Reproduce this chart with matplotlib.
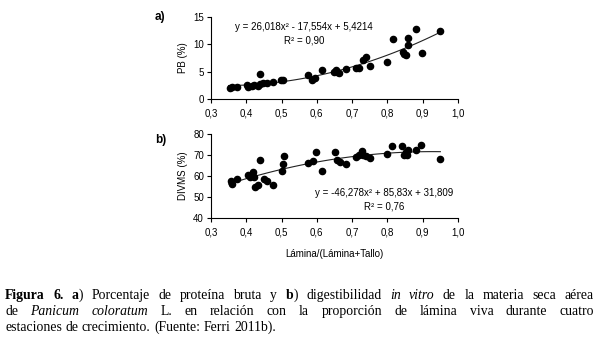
import matplotlib
matplotlib.use('Agg')
import matplotlib.pyplot as plt
import numpy as np

# proporcion de lamina viva (eje x) y valores
x_pb = [0.354, 0.359, 0.373, 0.403, 0.406, 0.415, 0.423, 0.434, 0.439, 0.439,
        0.448, 0.458, 0.477, 0.498, 0.505, 0.576, 0.585, 0.595, 0.614, 0.648,
        0.654, 0.658, 0.664, 0.682, 0.711, 0.720, 0.730, 0.739, 0.750, 0.798,
        0.815, 0.843, 0.847, 0.852, 0.857, 0.857, 0.881, 0.897, 0.949]
y_pb = [2.1, 2.15, 2.2, 2.6, 2.25, 2.4, 2.55, 2.4, 4.65, 2.7,
        2.85, 2.95, 3.1, 3.4, 3.4, 4.3, 3.4, 3.9, 5.3, 4.9,
        5.3, 5.0, 4.7, 5.4, 5.6, 5.6, 7.2, 7.6, 6.1, 6.7,
        10.9, 8.6, 8.3, 8.0, 11.1, 9.85, 12.8, 8.45, 12.5]

x_dv = [0.357, 0.360, 0.373, 0.404, 0.410, 0.420, 0.423, 0.425, 0.434, 0.439,
        0.451, 0.458, 0.477, 0.500, 0.503, 0.507, 0.576, 0.590, 0.598, 0.614,
        0.650, 0.656, 0.665, 0.682, 0.711, 0.720, 0.727, 0.732, 0.739, 0.750,
        0.798, 0.812, 0.840, 0.847, 0.852, 0.856, 0.859, 0.881, 0.894, 0.949]
y_dv = [57.4, 56.3, 58.7, 60.6, 59.4, 62.1, 59.6, 55.0, 55.8, 67.8,
        58.7, 57.5, 55.8, 62.6, 65.8, 69.7, 66.0, 67.3, 71.2, 62.3,
        71.2, 67.6, 66.5, 65.8, 69.2, 70.1, 71.7, 70.1, 69.7, 68.4,
        70.5, 74.4, 74.4, 70.1, 71.2, 70.1, 72.5, 72.5, 74.9, 68.1]

# coeficientes de las ecuaciones de ajuste mostradas
coef_pb = [26.018, -17.554, 5.4214]
coef_dv = [-46.278, 85.83, 31.809]

x_ticks = [0.3, 0.4, 0.5, 0.6, 0.7, 0.8, 0.9, 1.0]
x_tick_labels = ['0,3', '0,4', '0,5', '0,6', '0,7', '0,8', '0,9', '1,0']

plt.rcParams['font.family'] = ['Liberation Sans', 'DejaVu Sans']

fig = plt.figure(figsize=(6.0, 3.47), dpi=100)
W, H = 600, 347


def axes_px(x0, x1, ytop, ybot):
    return fig.add_axes([x0 / W, 1 - ybot / H, (x1 - x0) / W, (ybot - ytop) / H])


def style_axes(ax):
    for s in ['top', 'right']:
        ax.spines[s].set_visible(False)
    for s in ['left', 'bottom']:
        ax.spines[s].set_linewidth(0.8)
    ax.tick_params(direction='out', length=3, width=0.8, labelsize=7, pad=2)
    ax.tick_params(axis='x', pad=4)
    ax.set_xlim(0.3, 1.0)
    ax.set_xticks(x_ticks)
    ax.set_xticklabels(x_tick_labels)


xfit = np.linspace(0.35, 0.95, 100)

ax1 = axes_px(211, 458, 17, 99)
style_axes(ax1)
ax1.scatter(x_pb, y_pb, s=20, color='black', zorder=3, clip_on=False)
ax1.plot(xfit, np.polyval(coef_pb, xfit), color='#222222', lw=0.8)
ax1.set_ylim(0, 15)
ax1.set_yticks([0, 5, 10, 15])
ax1.set_ylabel('PB (%)', fontsize=7, labelpad=4)
ax1.text(0.563, 13.1, 'y = 26,018x² - 17,554x + 5,4214', fontsize=7, ha='center', va='center')
ax1.text(0.563, 10.7, 'R² = 0,90', fontsize=7, ha='center', va='center')

ax2 = axes_px(211, 458, 134, 218)
style_axes(ax2)
ax2.scatter(x_dv, y_dv, s=20, color='black', zorder=3, clip_on=False)
ax2.plot(xfit, np.polyval(coef_dv, xfit), color='#222222', lw=0.8)
ax2.set_ylim(40, 80)
ax2.set_yticks([40, 50, 60, 70, 80])
ax2.set_ylabel('DIVMS (%)', fontsize=7, labelpad=4)
ax2.set_xlabel('Lámina/(Lámina+Tallo)', fontsize=7, labelpad=8)
ax2.text(0.79, 51.9, 'y = -46,278x² + 85,83x + 31,809', fontsize=7, ha='center', va='center')
ax2.text(0.79, 45.3, 'R² = 0,76', fontsize=7, ha='center', va='center')

fig.text(155 / W, 1 - 17 / H, 'a)', fontsize=8.5, fontweight='bold', ha='left', va='center')
fig.text(155 / W, 1 - 140 / H, 'b)', fontsize=8.5, fontweight='bold', ha='left', va='center')

# leyenda de la figura, justificada
serif = ['Liberation Serif', 'DejaVu Serif']
cap_size = 9.9
styles = {
    'n': dict(family=serif, fontsize=cap_size),
    'b': dict(family=serif, fontsize=cap_size, fontweight='bold'),
    'i': dict(family=serif, fontsize=cap_size, fontstyle='italic'),
}

line1 = [[('Figura', 'b')], [('6.', 'b')], [('a', 'b'), (')', 'n')], [('Porcentaje', 'n')],
         [('de', 'n')], [('proteína', 'n')], [('bruta', 'n')], [('y', 'n')],
         [('b', 'b'), (')', 'n')], [('digestibilidad', 'n')], [('in', 'i')], [('vitro', 'i')],
         [('de', 'n')], [('la', 'n')], [('materia', 'n')], [('seca', 'n')], [('aérea', 'n')]]
line2 = [[('de', 'n')], [('Panicum', 'i')], [('coloratum', 'i')], [('L.', 'n')],
         [('en', 'n')], [('relación', 'n')], [('con', 'n')], [('la', 'n')],
         [('proporción', 'n')], [('de', 'n')], [('lámina', 'n')], [('viva', 'n')],
         [('durante', 'n')], [('cuatro', 'n')]]
line3 = [[('estaciones', 'n')], [('de', 'n')], [('crecimiento.', 'n')],
         [('(Fuente:', 'n')], [('Ferri', 'n')], [('2011b).', 'n')]]

renderer = fig.canvas.get_renderer()


def width(txt, st):
    t = fig.text(0, 0, txt, **styles[st])
    w = t.get_window_extent(renderer).width
    t.remove()
    return w


space_w = width('x x', 'n') - width('xx', 'n')


def draw_line(words, ypx, justify, left=5, right=594):
    wws = [sum(width(s, st) for s, st in w) for w in words]
    if justify:
        gap = (right - left - sum(wws)) / (len(words) - 1)
    else:
        gap = space_w
    x = left
    for w, ww in zip(words, wws):
        xx = x
        for s, st in w:
            fig.text(xx / W, 1 - ypx / H, s, ha='left', va='baseline', **styles[st])
            xx += width(s, st)
        x += ww + gap


draw_line(line1, 299, True)
draw_line(line2, 315, True)
draw_line(line3, 331, False)

fig.savefig('out.png', dpi=100)
